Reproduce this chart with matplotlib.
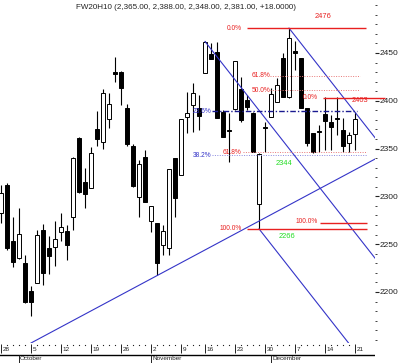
import matplotlib
matplotlib.use("Agg")
import matplotlib.pyplot as plt
import pandas as pd

plt.rcParams["font.family"] = ["Liberation Sans", "DejaVu Sans"]

# FW20H10 daily bars, 28 Sep - 21 Dec 2009 (11 Nov is a holiday)
dates = pd.bdate_range("2009-09-28", "2009-12-21").drop(pd.Timestamp("2009-11-11"))

opens = [2283, 2312, 2253, 2235, 2230, 2201, 2209, 2265, 2246, 2247,
         2263, 2264, 2278, 2361, 2315, 2309, 2370, 2357, 2381, 2430,
         2430, 2392, 2353, 2299, 2341, 2274, 2272, 2249, 2246, 2340,
         2322, 2383, 2396, 2392, 2429, 2449, 2451, 2388, 2369, 2391,
         2412, 2401, 2387, 2292, 2373, 2383, 2399, 2445, 2404, 2452,
         2445, 2392, 2366, 2368, 2386, 2378, 2382, 2369, 2356, 2365]
highs = [2312, 2314, 2278, 2288, 2239, 2206, 2265, 2271, 2259, 2274,
         2283, 2270, 2341, 2362, 2330, 2352, 2389, 2412, 2408, 2446,
         2431, 2397, 2355, 2338, 2348, 2290, 2272, 2270, 2329, 2340,
         2381, 2409, 2419, 2406, 2462, 2460, 2461, 2390, 2387, 2442,
         2425, 2406, 2388, 2345, 2378, 2413, 2424, 2450, 2476, 2463,
         2445, 2392, 2366, 2375, 2404, 2385, 2404, 2382, 2367, 2388]
lows = [2272, 2244, 2226, 2234, 2188, 2175, 2209, 2207, 2219, 2227,
        2253, 2233, 2265, 2303, 2288, 2309, 2353, 2350, 2371, 2420,
        2396, 2353, 2310, 2278, 2294, 2263, 2218, 2239, 2239, 2278,
        2322, 2366, 2367, 2369, 2429, 2444, 2382, 2362, 2336, 2390,
        2378, 2390, 2346, 2266, 2346, 2383, 2399, 2404, 2403, 2432,
        2392, 2353, 2345, 2346, 2349, 2349, 2364, 2346, 2346, 2348]
closes = [2304, 2246, 2231, 2261, 2190, 2190, 2260, 2220, 2238, 2255,
          2268, 2249, 2340, 2305, 2302, 2345, 2360, 2408, 2397, 2428,
          2413, 2355, 2311, 2334, 2294, 2290, 2230, 2264, 2329, 2298,
          2381, 2387, 2408, 2384, 2461, 2444, 2382, 2362, 2368, 2442,
          2380, 2393, 2346, 2344, 2372, 2407, 2416, 2404, 2466, 2450,
          2392, 2356, 2346, 2367, 2379, 2373, 2381, 2353, 2364, 2381]

title = "FW20H10 (2,365.00, 2,388.00, 2,348.00, 2,381.00, +18.0000)"
yticks = [2200, 2250, 2300, 2350, 2400, 2450]

# fibonacci levels (price)
fib_a = {"0.0%": 2476, "61.8%": 2346, "100.0%": 2266}
fib_b = {"0.0%": 2403, "100.0%": 2272}
fib_c = {"61.8%": 2426, "50.0%": 2411}
fib_blue = {"23.6%": 2389, "38.2%": 2343}
price_marks = [2476, 2403, 2344, 2266]

# trend lines: (x0, x1), (y0, y1) in bar index / price
trend_up = ([5, 62.33], [2146.6, 2339])
trend_down = [([34, 62.33], [2462, 2235.4]),
              ([43, 58.5], [2266, 2142]),
              ([48, 62.33], [2476, 2361.4])]

RED = "#e82020"
PINK = "#e87878"
BLUE = "#3434c8"
NAVY = "#1a1a90"
LILAC = "#8a8ae0"
GREEN = "#22dd22"
TXT = "#222222"

W, H = 400, 363
fig = plt.figure(figsize=(W / 100, H / 100), dpi=100)
ax = fig.add_axes([0, 20 / H, 375 / W, 343 / H])
ax.set_xlim(-1 / 6, 374 / 6)
ax.set_ylim(2146.6, 2505.4)

# candles
for i in range(len(dates)):
    o, h, l, c = opens[i], highs[i], lows[i], closes[i]
    ax.vlines(i, l, h, color="black", lw=0.8, zorder=2)
    ax.bar(i, max(abs(c - o), 0.8), bottom=min(o, c), width=0.72,
           color="white" if c > o else "black", edgecolor="black",
           lw=0.7, zorder=3)

# trend lines
ax.plot(trend_up[0], trend_up[1], color=BLUE, lw=0.8, zorder=4)
for tx, ty in trend_down:
    ax.plot(tx, ty, color=BLUE, lw=0.8, zorder=4)

# fib A (2476 -> 2266)
ax.hlines(fib_a["0.0%"], 41, 60.8, color=RED, lw=1.0, zorder=4)
ax.hlines(fib_a["61.8%"], 40.3, 61, color=PINK, lw=0.7, ls=(0, (1, 1.5)), zorder=4)
ax.hlines(fib_a["100.0%"], 41, 61, color=RED, lw=1.0, zorder=4)
for k in fib_a:
    ax.text(40.1, fib_a[k], k, color=RED, fontsize=4.8, ha="right", va="center")

# fib C (2344 -> 2476)
for k in fib_c:
    ax.hlines(fib_c[k], 44.8, 59.8, color=PINK, lw=0.7, ls=(0, (1, 1.5)), zorder=4)
    ax.text(41.8, fib_c[k], k, color=RED, fontsize=4.8, ha="left", va="center")

# fib B
ax.hlines(fib_b["0.0%"], 53.7, 64, color=RED, lw=1.0, zorder=4, clip_on=False)
ax.hlines(fib_b["100.0%"], 53.2, 61, color=RED, lw=1.0, zorder=4)
ax.text(52.8, fib_b["0.0%"], "0.0%", color=RED, fontsize=4.8, ha="right", va="center")
ax.text(52.8, fib_b["100.0%"] + 2, "100.0%", color=RED, fontsize=4.8, ha="right", va="center")

# blue fib
ax.hlines(fib_blue["23.6%"], 35.2, 59.3, color=NAVY, lw=1.0, ls=(0, (4, 1.5, 1, 1.5)), zorder=4)
ax.hlines(fib_blue["38.2%"], 35.2, 61, color=LILAC, lw=0.7, ls=(0, (1, 1.5)), zorder=4)
for k in fib_blue:
    ax.text(35, fib_blue[k], k, color=BLUE, fontsize=4.8, ha="right", va="center")

# price labels
ax.text(53.75, price_marks[0] + 12.5, str(price_marks[0]), color=RED, fontsize=5.4, ha="center", va="center")
ax.text(58.5, price_marks[1] - 2.7, str(price_marks[1]), color=RED, fontsize=5.4, ha="left", va="center")
ax.text(45.8, price_marks[2] - 10, str(price_marks[2]), color=GREEN, fontsize=5.4, ha="left", va="center")
ax.text(46.3, price_marks[3] - 8, str(price_marks[3]), color=GREEN, fontsize=5.4, ha="left", va="center")

# y axis on the right
ax.yaxis.tick_right()
ax.set_yticks(yticks)
ax.set_yticklabels([str(v) for v in yticks])
ax.set_yticks(range(2150, 2501, 10), minor=True)
ax.tick_params(axis="y", which="major", direction="out", length=3, width=0.8,
               pad=0.6, labelsize=6, colors=TXT)
ax.tick_params(axis="y", which="minor", direction="out", length=1.5, width=0.6, colors=TXT)
ax.set_xticks([])
for s in ax.spines.values():
    s.set_visible(False)

fig.text(76 / W, 1 - 7.5 / H, title, fontsize=5.75, ha="left", va="center", color=TXT)

# date strip (pixel rows 343..363)
axd = fig.add_axes([0, 0, 375 / W, 20 / H])
axd.set_xlim(ax.get_xlim())
axd.set_ylim(363, 343)
axd.axis("off")
axd.axhline(355, color="black", lw=1.0)

week_start = [i for i in range(len(dates)) if i == 0 or dates[i].week != dates[i - 1].week]
other = [i for i in range(len(dates)) if i not in week_start]
axd.plot(other, [344.8] * len(other), ls="none", marker="s", ms=0.8, mew=0, color=TXT)
axd.vlines(week_start, 344.5, 353, color=TXT, lw=0.7)
for i in week_start:
    axd.text(i + 0.25, 349.5, str(dates[i].day), fontsize=4.6, ha="left", va="center", color=TXT)

month_start = [i for i in range(1, len(dates)) if dates[i].month != dates[i - 1].month]
for i in month_start:
    axd.vlines(i, 355, 363, color=TXT, lw=0.7)
    axd.text(i + 0.2, 356.3, dates[i].strftime("%B"), fontsize=4.6, ha="left", va="top", color=TXT)

fig.savefig("out.png", dpi=100)
